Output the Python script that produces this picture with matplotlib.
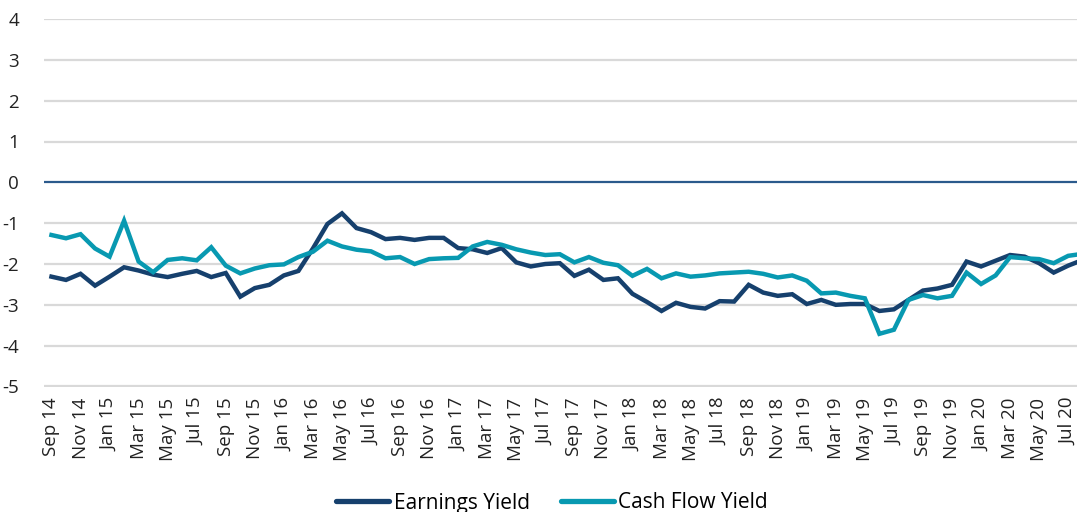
import matplotlib
matplotlib.use("Agg")
import matplotlib.pyplot as plt
from matplotlib.lines import Line2D

months = ["Sep 14", "Oct 14", "Nov 14", "Dec 14", "Jan 15", "Feb 15", "Mar 15", "Apr 15",
          "May 15", "Jun 15", "Jul 15", "Aug 15", "Sep 15", "Oct 15", "Nov 15", "Dec 15",
          "Jan 16", "Feb 16", "Mar 16", "Apr 16", "May 16", "Jun 16", "Jul 16", "Aug 16",
          "Sep 16", "Oct 16", "Nov 16", "Dec 16", "Jan 17", "Feb 17", "Mar 17", "Apr 17",
          "May 17", "Jun 17", "Jul 17", "Aug 17", "Sep 17", "Oct 17", "Nov 17", "Dec 17",
          "Jan 18", "Feb 18", "Mar 18", "Apr 18", "May 18", "Jun 18", "Jul 18", "Aug 18",
          "Sep 18", "Oct 18", "Nov 18", "Dec 18", "Jan 19", "Feb 19", "Mar 19", "Apr 19",
          "May 19", "Jun 19", "Jul 19", "Aug 19", "Sep 19", "Oct 19", "Nov 19", "Dec 19",
          "Jan 20", "Feb 20", "Mar 20", "Apr 20", "May 20", "Jun 20", "Jul 20", "Aug 20"]

earnings_yield = [-2.31, -2.39, -2.24, -2.53, -2.31, -2.08, -2.16, -2.26, -2.32, -2.24,
                  -2.17, -2.32, -2.22, -2.80, -2.59, -2.51, -2.28, -2.17, -1.62, -1.02,
                  -0.76, -1.12, -1.22, -1.39, -1.36, -1.41, -1.36, -1.36, -1.61, -1.64,
                  -1.73, -1.61, -1.96, -2.06, -2.00, -1.98, -2.29, -2.14, -2.39, -2.35,
                  -2.73, -2.93, -3.15, -2.95, -3.05, -3.09, -2.91, -2.92, -2.51, -2.70,
                  -2.78, -2.74, -2.98, -2.88, -3.00, -2.98, -2.98, -3.15, -3.11, -2.88,
                  -2.65, -2.60, -2.51, -1.94, -2.06, -1.92, -1.78, -1.82, -1.98, -2.21,
                  -2.04, -1.90]

cash_flow_yield = [-1.29, -1.37, -1.27, -1.62, -1.82, -0.94, -1.94, -2.20, -1.90, -1.86,
                   -1.91, -1.59, -2.04, -2.23, -2.11, -2.03, -2.01, -1.83, -1.70, -1.43,
                   -1.57, -1.65, -1.69, -1.86, -1.83, -2.00, -1.88, -1.86, -1.85, -1.57,
                   -1.46, -1.53, -1.64, -1.72, -1.78, -1.76, -1.96, -1.83, -1.97, -2.03,
                   -2.29, -2.12, -2.35, -2.23, -2.31, -2.28, -2.23, -2.21, -2.19, -2.24,
                   -2.33, -2.28, -2.41, -2.72, -2.70, -2.78, -2.84, -3.71, -3.61, -2.88,
                   -2.76, -2.84, -2.78, -2.21, -2.49, -2.28, -1.83, -1.86, -1.88, -1.98,
                   -1.80, -1.75]

y_ticks = [4, 3, 2, 1, 0, -1, -2, -3, -4, -5]
series_names = ["Earnings Yield", "Cash Flow Yield"]

EY_COLOR = "#16406d"
CF_COLOR = "#0899b1"
FONT = "Open Sans"

plt.rcParams["font.family"] = [FONT, "DejaVu Sans"]

fig = plt.figure(figsize=(10.77, 5.12), dpi=100)
W, H = 1077, 512
left_px, right_px, top_px, bot_px = 44.2, 1090.0, 19.0, 386.5
ax = fig.add_axes([left_px / W, 1 - bot_px / H, (right_px - left_px) / W, (bot_px - top_px) / H])

x = list(range(len(months)))
ax.set_xlim(-0.5, len(months) - 0.5)
ax.set_ylim(-5, 4)

for yv in y_ticks:
    if yv != 0:
        ax.axhline(yv, color="#d9d9d9", lw=1.6, zorder=1)
ax.axhline(0, color="#2b5a8c", lw=1.6, zorder=2)

ax.plot(x, earnings_yield, color=EY_COLOR, lw=3.2, solid_joinstyle="miter", zorder=3,
        label=series_names[0])
ax.plot(x, cash_flow_yield, color=CF_COLOR, lw=3.2, solid_joinstyle="miter", zorder=4,
        label=series_names[1])

for s in ax.spines.values():
    s.set_visible(False)

ax.set_yticks(y_ticks)
ax.set_yticklabels([str(v) for v in y_ticks], fontsize=13.5, color="#222222")
ax.set_xticks(x[::2])
ax.set_xticklabels(months[::2], rotation=90, fontsize=13.5, color="#222222")
ax.tick_params(axis="both", length=0)
ax.tick_params(axis="y", pad=18)
ax.tick_params(axis="x", pad=8)

handles = [Line2D([0], [0], color=EY_COLOR, lw=3.8, solid_capstyle="round"),
           Line2D([0], [0], color=CF_COLOR, lw=3.8, solid_capstyle="round")]
fig.legend(handles, series_names, loc="center", bbox_to_anchor=(552 / W, 1 - 503 / H),
           ncol=2, frameon=False, fontsize=15, handlelength=2.55, handletextpad=0.2,
           columnspacing=1.5, borderpad=0, borderaxespad=0)

fig.savefig("out.png", dpi=100)
